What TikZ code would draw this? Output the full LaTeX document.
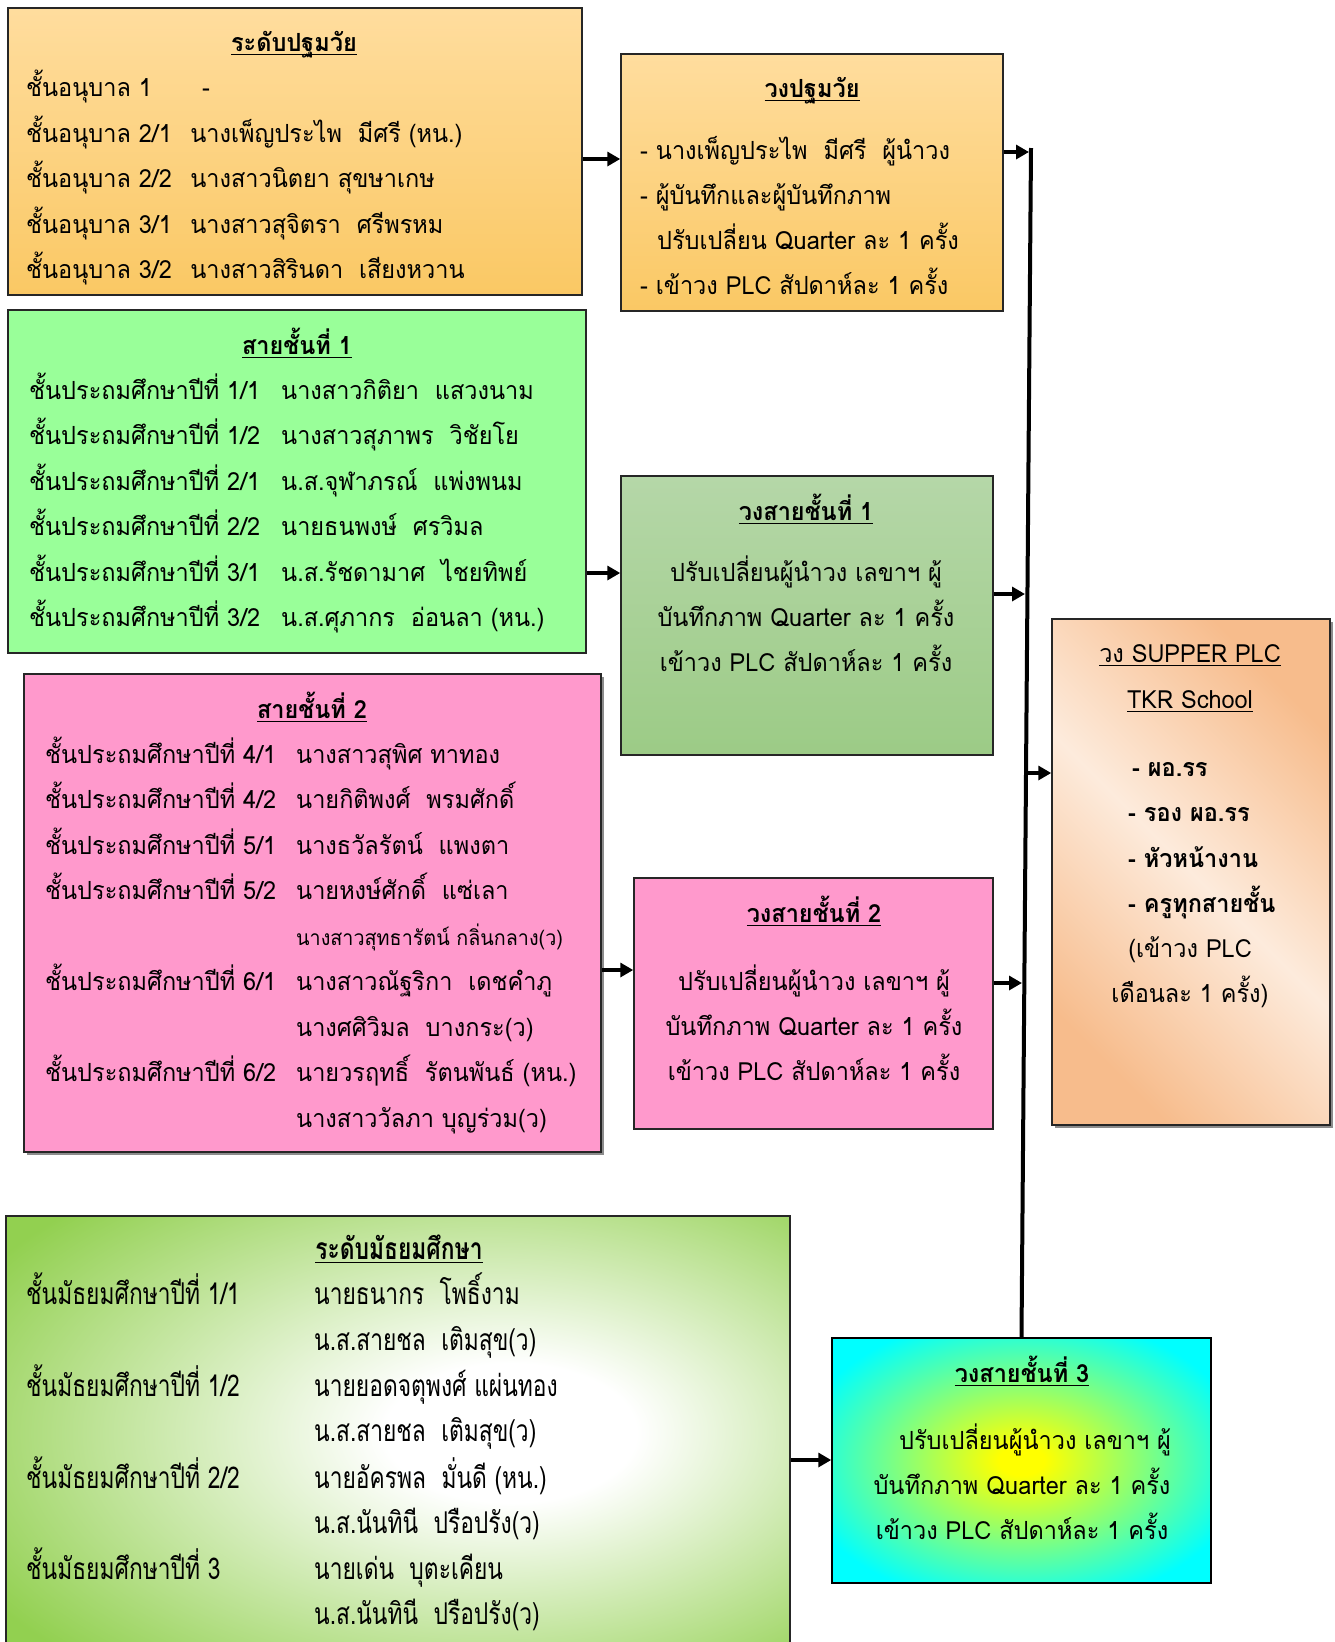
\documentclass[tikz,border=0pt]{standalone}
\usepackage{fontspec}
\setmainfont{Loma}[Script=Thai,FakeStretch=0.94]
\newfontfamily\condfont{Loma}[Script=Thai,FakeStretch=0.76]
\usetikzlibrary{arrows.meta,fit,shadows}
\definecolor{aTop}{RGB}{255,221,158}
\definecolor{aBot}{RGB}{250,200,100}
\definecolor{cGreen}{RGB}{153,255,153}
\definecolor{dTop}{RGB}{181,215,168}
\definecolor{dBot}{RGB}{156,203,134}
\definecolor{pinkf}{RGB}{255,153,204}
\definecolor{gDark}{RGB}{247,188,140}
\definecolor{gLight}{RGB}{253,235,220}
\definecolor{hGreen}{RGB}{146,208,80}
\pgfdeclareradialshading{hshade}{\pgfpoint{8bp}{0bp}}{color(0bp)=(white); color(8bp)=(white); color(36bp)=(hGreen); color(80bp)=(hGreen)}
\pgfdeclareradialshading{ishade}{\pgfpoint{0bp}{0bp}}{color(0bp)=(yellow); color(3bp)=(yellow); color(30bp)=(cyan); color(80bp)=(cyan)}
\newcommand\ulx[1]{\setbox0\hbox{#1}\rlap{\rule[-4pt]{\wd0}{1.4pt}}\box0}
\tikzset{
 txl/.style={anchor=base west, inner sep=0pt, font=\fontsize{25}{30}\selectfont},
 txc/.style={anchor=base, inner sep=0pt, font=\fontsize{25}{30}\selectfont},
 ttl/.style={anchor=base, inner sep=0pt, font=\fontsize{25}{30}\selectfont\bfseries},
 txh/.style={anchor=base west, inner sep=0pt, font=\fontsize{30}{32}\condfont},
 boxs/.style={draw=black!85, line width=1.5pt, inner sep=0pt},
 shad/.style={drop shadow={shadow xshift=3pt, shadow yshift=-3pt, opacity=0.45, fill=black}},
 arr/.style={line width=4pt, -{Triangle[length=13pt,width=14pt]}},
 vline/.style={line width=4pt},
}
\begin{document}
\begin{tikzpicture}[x=1pt,y=-1pt]
\useasboundingbox (0,0) rectangle (1335,1642);
\fill[white] (0,0) rectangle (1335,1642);
% boxes
\node[boxs, top color=aTop, bottom color=aBot, fit={(8,8) (582,295)}] (A) {};
\node[boxs, top color=aTop, bottom color=aBot, fit={(621,54) (1003,311)}] (B) {};
\node[boxs, fill=cGreen, fit={(8,310) (586,653)}] (C) {};
\node[boxs, top color=dTop, bottom color=dBot, fit={(621,476) (993,755)}] (D) {};
\node[boxs, shad, fill=pinkf, fit={(24,674) (601,1152)}] (E) {};
\node[boxs, fill=pinkf, fit={(634,878) (993,1129)}] (F) {};
\node[boxs, shad, top color=gDark, bottom color=gDark, middle color=gLight, shading angle=-45, fit={(1052,619) (1330,1125)}] (G) {};
\node[boxs, shading=hshade, fit={(6,1216) (790,1650)}] (H) {};
\node[boxs, draw=black, shading=ishade, fit={(832,1338) (1211,1583)}] (I) {};
% box A
\node[ttl] (a0) at (294,51) {\ulx{ระดับปฐมวัย}};
\node[txl] (a1) at (26,96) {\makebox[176pt][l]{ชั้นอนุบาล 1}-};
\node[txl] (a2) at (26,142) {\makebox[164pt][l]{ชั้นอนุบาล 2/1}นางเพ็ญประไพ~ มีศรี (หน.)};
\node[txl] (a3) at (26,187) {\makebox[164pt][l]{ชั้นอนุบาล 2/2}นางสาวนิตยา สุขษาเกษ};
\node[txl] (a4) at (26,233) {\makebox[164pt][l]{ชั้นอนุบาล 3/1}นางสาวสุจิตรา~ ศรีพรหม};
\node[txl] (a5) at (26,278) {\makebox[164pt][l]{ชั้นอนุบาล 3/2}นางสาวสิรินดา~ เสียงหวาน};
% box B
\node[ttl] (b0) at (812,97) {\ulx{วงปฐมวัย}};
\node[txl] (b1) at (640,159) {- นางเพ็ญประไพ~ มีศรี~ ผู้นำวง};
\node[txl] (b2) at (640,204) {- ผู้บันทึกและผู้บันทึกภาพ};
\node[txl] (b3) at (657,249) {ปรับเปลี่ยน Quarter ละ 1 ครั้ง};
\node[txl] (b4) at (640,294) {- เข้าวง PLC สัปดาห์ละ 1 ครั้ง};
% box C
\node[ttl] (c0) at (297,354) {\ulx{สายชั้นที่ 1}};
\node[txl] (c1) at (29,399) {\makebox[252pt][l]{ชั้นประถมศึกษาปีที่ 1/1}นางสาวกิติยา~ แสวงนาม};
\node[txl] (c2) at (29,444) {\makebox[252pt][l]{ชั้นประถมศึกษาปีที่ 1/2}นางสาวสุภาพร~ วิชัยโย};
\node[txl] (c3) at (29,490) {\makebox[252pt][l]{ชั้นประถมศึกษาปีที่ 2/1}น.ส.จุฬาภรณ์~ แพ่งพนม};
\node[txl] (c4) at (29,535) {\makebox[252pt][l]{ชั้นประถมศึกษาปีที่ 2/2}นายธนพงษ์~ ศรวิมล};
\node[txl] (c5) at (29,581) {\makebox[252pt][l]{ชั้นประถมศึกษาปีที่ 3/1}น.ส.รัชดามาศ~ ไชยทิพย์};
\node[txl] (c6) at (29,626) {\makebox[252pt][l]{ชั้นประถมศึกษาปีที่ 3/2}น.ส.ศุภากร~ อ่อนลา (หน.)};
% box D
\node[ttl] (d0) at (806,520) {\ulx{วงสายชั้นที่ 1}};
\node[txc] (d1) at (806,581) {ปรับเปลี่ยนผู้นำวง เลขาฯ ผู้};
\node[txc] (d2) at (806,626) {บันทึกภาพ Quarter ละ 1 ครั้ง};
\node[txc] (d3) at (806,671) {เข้าวง PLC สัปดาห์ละ 1 ครั้ง};
% box E
\node[ttl] (e0) at (312,718) {\ulx{สายชั้นที่ 2}};
\node[txl] (e1) at (45,763) {\makebox[251pt][l]{ชั้นประถมศึกษาปีที่ 4/1}นางสาวสุพิศ ทาทอง};
\node[txl] (e2) at (45,808) {\makebox[251pt][l]{ชั้นประถมศึกษาปีที่ 4/2}นายกิติพงศ์~ พรมศักดิ์};
\node[txl] (e3) at (45,854) {\makebox[251pt][l]{ชั้นประถมศึกษาปีที่ 5/1}นางธวัลรัตน์~ แพงตา};
\node[txl] (e4) at (45,899) {\makebox[251pt][l]{ชั้นประถมศึกษาปีที่ 5/2}นายหงษ์ศักดิ์~ แซ่เลา};
\node[txl, font=\fontsize{21}{25}\selectfont] (e5) at (296,945) {นางสาวสุทธารัตน์ กลิ่นกลาง(ว)};
\node[txl] (e6) at (45,990) {\makebox[251pt][l]{ชั้นประถมศึกษาปีที่ 6/1}นางสาวณัฐริกา~ เดชคำภู};
\node[txl] (e7) at (296,1036) {นางศศิวิมล~ บางกระ(ว)};
\node[txl] (e8) at (45,1081) {\makebox[251pt][l]{ชั้นประถมศึกษาปีที่ 6/2}นายวรฤทธิ์~ รัตนพันธ์ (หน.)};
\node[txl] (e9) at (296,1127) {นางสาววัลภา บุญร่วม(ว)};
% box F
\node[ttl] (f0) at (814,922) {\ulx{วงสายชั้นที่ 2}};
\node[txc] (f1) at (814,990) {ปรับเปลี่ยนผู้นำวง เลขาฯ ผู้};
\node[txc] (f2) at (814,1035) {บันทึกภาพ Quarter ละ 1 ครั้ง};
\node[txc] (f3) at (814,1080) {เข้าวง PLC สัปดาห์ละ 1 ครั้ง};
% box G
\node[txc] (g0) at (1190,662) {\ulx{วง SUPPER PLC}};
\node[txc] (g1) at (1190,708) {\ulx{TKR School}};
\node[txl, font=\fontsize{25}{30}\selectfont\bfseries] (g2) at (1132,776) {- ผอ.รร};
\node[txl, font=\fontsize{25}{30}\selectfont\bfseries] (g3) at (1128,821) {- รอง ผอ.รร};
\node[txl, font=\fontsize{25}{30}\selectfont\bfseries] (g4) at (1128,867) {- หัวหน้างาน};
\node[txl, font=\fontsize{25}{30}\selectfont\bfseries] (g5) at (1128,912) {- ครูทุกสายชั้น};
\node[txc] (g6) at (1190,957) {(เข้าวง PLC};
\node[txc] (g7) at (1190,1002) {เดือนละ 1 ครั้ง)};
% box H
\node[ttl, font=\fontsize{30}{32}\condfont\bfseries] (h0) at (399,1259) {\ulx{ระดับมัธยมศึกษา}};
\node[txh] (h1) at (26,1304) {\makebox[288pt][l]{ชั้นมัธยมศึกษาปีที่ 1/1}นายธนากร~ โพธิ์งาม};
\node[txh] (h2) at (314,1350) {น.ส.สายชล~ เติมสุข(ว)};
\node[txh] (h3) at (26,1396) {\makebox[288pt][l]{ชั้นมัธยมศึกษาปีที่ 1/2}นายยอดจตุพงศ์ แผ่นทอง};
\node[txh] (h4) at (314,1441) {น.ส.สายชล~ เติมสุข(ว)};
\node[txh] (h5) at (26,1488) {\makebox[288pt][l]{ชั้นมัธยมศึกษาปีที่ 2/2}นายอัครพล~ มั่นดี (หน.)};
\node[txh] (h6) at (314,1533) {น.ส.นันทินี~ ปรือปรัง(ว)};
\node[txh] (h7) at (26,1579) {\makebox[288pt][l]{ชั้นมัธยมศึกษาปีที่ 3}นายเด่น~ บุตะเคียน};
\node[txh] (h8) at (314,1624) {น.ส.นันทินี~ ปรือปรัง(ว)};
% box I
\node[ttl] (i0) at (1022,1382) {\ulx{วงสายชั้นที่ 3}};
\node[txc] (i1) at (1035,1449) {ปรับเปลี่ยนผู้นำวง เลขาฯ ผู้};
\node[txc] (i2) at (1022,1494) {บันทึกภาพ Quarter ละ 1 ครั้ง};
\node[txc] (i3) at (1022,1539) {เข้าวง PLC สัปดาห์ละ 1 ครั้ง};
% connectors
\coordinate (ra) at (0,159);
\coordinate (rc) at (0,573);
\coordinate (re) at (0,773);
\coordinate (rf) at (0,970);
\coordinate (rh) at (0,1460);
\coordinate (vtop) at (1031,148);
\coordinate (j1) at (1029,152);
\coordinate (j2) at (1025,594);
\coordinate (j3) at (1025,773);
\coordinate (j4) at (1022,983);
\draw[vline] (I.north) -- (vtop);
\draw[arr] (A.east |- ra) -- (B.west |- ra);
\draw[arr] (B.east |- j1) -- (j1);
\draw[arr] (C.east |- rc) -- (D.west |- rc);
\draw[arr] (D.east |- j2) -- (j2);
\draw[arr] (j3) -- (G.west |- re);
\draw[arr] (E.east |- rf) -- (F.west |- rf);
\draw[arr] (F.east |- j4) -- (j4);
\draw[arr] (H.east |- rh) -- (I.west |- rh);
\end{tikzpicture}
\end{document}
